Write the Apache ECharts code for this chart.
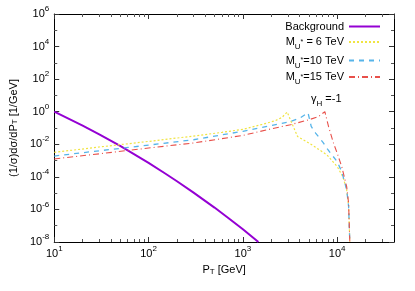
<!DOCTYPE html>
<html><head><meta charset="utf-8">
<script src="https://cdn.jsdelivr.net/npm/echarts@6/dist/echarts.min.js"></script>
<style>html,body{margin:0;padding:0;background:#fff}#c{width:415px;height:291px}</style>
</head><body><div id="c"></div>
<script>
// ---- data (P_T in GeV, (1/sigma) dsigma/dP_T in 1/GeV) ----
const seriesNames = ['Background', 'M_U* = 6 TeV', 'M_U*=10 TeV', 'M_U*=15 TeV'];

const bgPt  = [10, 20, 30, 50, 70, 100, 150, 200, 300, 500, 700, 1000, 1460];
const bgVal = [1, 0.139, 0.041, 7.9e-3, 2.5e-3, 7.2e-4, 1.6e-4, 5.4e-5, 1.07e-5, 1.3e-6, 3.0e-7, 6.0e-8, 1e-8];

const m6Pt  = [10, 30, 100, 300, 600, 1000, 1600, 2200, 2600, 2950, 3300, 3800, 4300, 5600, 7800, 10000, 11500, 12600, 13200, 13600];
const m6Val = [3.2e-3, 6.8e-3, 1.5e-2, 3.2e-2, 5.4e-2, 8.3e-2, 0.166, 0.28, 0.45, 0.95, 0.2, 0.03, 0.02, 8e-3, 2.2e-3, 4.3e-4, 1e-4, 1.6e-5, 1.6e-6, 1e-8];

const m10Pt  = [10, 30, 100, 300, 1000, 2000, 3200, 4000, 4900, 5300, 5900, 7100, 7900, 10000, 11200, 12600, 13200, 13600];
const m10Val = [1.9e-3, 4e-3, 8.9e-3, 1.9e-2, 6.3e-2, 0.14, 0.25, 0.4, 0.87, 0.126, 0.049, 0.0126, 5e-3, 8.5e-4, 2e-4, 1.6e-5, 1.6e-6, 1e-8];

const m15Pt  = [10, 30, 100, 300, 1000, 2000, 3200, 5000, 6300, 7400, 8100, 9100, 10000, 11200, 12600, 13200, 13600];
const m15Val = [1.26e-3, 2.6e-3, 5.9e-3, 1.2e-2, 3.5e-2, 8.9e-2, 0.16, 0.32, 0.5, 1.0, 0.12, 0.0126, 2.8e-3, 4e-4, 2.5e-5, 2.5e-6, 1e-8];

const xMinorTicks = [20,30,40,50,60,70,80,90,200,300,400,500,600,700,800,900,2000,3000,4000,5000,6000,7000,8000,9000,20000,30000];
const yMinorTicks = [1e5, 1e3, 1e1, 1e-1, 1e-3, 1e-5, 1e-7];

// ---- chart ----
const FONT = '"Liberation Sans", Arial, Helvetica, sans-serif';
const pairs = (xs, ys) => xs.map((x, i) => [x, ys[i]]);
const expFmt = v => {
  const l = Math.log10(v), e = Math.round(l);
  if (Math.abs(l - e) > 1e-6) return '';
  return '{b|10}{s|' + e + '}';
};
const labRich = {
  b: {fontSize: 11, lineHeight: 18, fontFamily: FONT, color: '#000'},
  s: {fontSize: 8, verticalAlign: 'top', fontFamily: FONT, color: '#000'}
};
const txtRich = {
  t: {fontSize: 11, lineHeight: 18, fontFamily: FONT, color: '#000'},
  sub: {fontSize: 8, verticalAlign: 'bottom', fontFamily: FONT, color: '#000'},
  st: {fontSize: 7, verticalAlign: 'middle', fontFamily: FONT, color: '#000'}
};
const xBase = {type: 'log', logBase: 10, min: 10, max: 40000, gridIndex: 0, splitLine: {show: false}};
const yBase = {type: 'log', logBase: 10, min: 1e-8, max: 1e6, gridIndex: 0, splitLine: {show: false}};
const lineAx = {show: true, onZero: false, lineStyle: {color: '#000', width: 1}};
const noLine = {show: false, onZero: false};

const xAxes = [
  Object.assign({}, xBase, {position: 'bottom', interval: 1, axisLine: lineAx,
    axisTick: {show: true, inside: true, length: 5, lineStyle: {color: '#333'}},
    axisLabel: {formatter: expFmt, rich: labRich, margin: 3, showMaxLabel: false},
    name: 'P{sub|T} [GeV]', nameLocation: 'middle', nameGap: 22,
    nameTextStyle: {fontSize: 11, fontFamily: FONT, color: '#000', rich: txtRich}}),
  Object.assign({}, xBase, {position: 'bottom', axisLine: noLine,
    axisTick: {show: true, inside: true, length: 3, customValues: xMinorTicks, lineStyle: {color: '#555'}},
    axisLabel: {show: false}}),
  Object.assign({}, xBase, {position: 'top', interval: 1, axisLine: lineAx,
    axisTick: {show: true, inside: true, length: 5, lineStyle: {color: '#333'}},
    axisLabel: {show: false}}),
  Object.assign({}, xBase, {position: 'top', axisLine: noLine,
    axisTick: {show: true, inside: true, length: 3, customValues: xMinorTicks, lineStyle: {color: '#555'}},
    axisLabel: {show: false}})
];
const yAxes = [
  Object.assign({}, yBase, {position: 'left', interval: 2, axisLine: lineAx,
    axisTick: {show: true, inside: true, length: 5, lineStyle: {color: '#333'}},
    axisLabel: {formatter: expFmt, rich: labRich, margin: 5},
    name: '(1/σ)dσ/dP{sub|T} [1/GeV]', nameLocation: 'middle', nameGap: 30, nameRotate: 90,
    nameTextStyle: {fontSize: 11, fontFamily: FONT, color: '#000', rich: txtRich}}),
  Object.assign({}, yBase, {position: 'left', axisLine: noLine,
    axisTick: {show: true, inside: true, length: 3, customValues: yMinorTicks, lineStyle: {color: '#555'}},
    axisLabel: {show: false}}),
  Object.assign({}, yBase, {position: 'right', interval: 2, axisLine: lineAx,
    axisTick: {show: true, inside: true, length: 5, lineStyle: {color: '#333'}},
    axisLabel: {show: false}}),
  Object.assign({}, yBase, {position: 'right', axisLine: noLine,
    axisTick: {show: true, inside: true, length: 3, customValues: yMinorTicks, lineStyle: {color: '#555'}},
    axisLabel: {show: false}})
];

const styles = [
  {color: '#9400d3', width: 2, type: 'solid'},
  {color: '#f0e442', width: 1.2, type: [2, 2]},
  {color: '#56b4e9', width: 1.3, type: [5, 5]},
  {color: '#e8504a', width: 1.1, type: [6, 3, 1, 3]}
];
const datas = [pairs(bgPt, bgVal), pairs(m6Pt, m6Val), pairs(m10Pt, m10Val), pairs(m15Pt, m15Val)];
const series = seriesNames.map((n, i) => ({
  name: n, type: 'line', xAxisIndex: 0, yAxisIndex: 0, data: datas[i],
  symbol: 'none', showSymbol: false, clip: true, animation: false,
  lineStyle: Object.assign({cap: 'butt'}, styles[i]), itemStyle: {color: styles[i].color},
  emphasis: {disabled: true}
}));

const legendFmt = name => name === 'Background' ? '{t|Background}'
  : '{t|M}{sub|U}{st|*}{t|' + name.slice(4) + '}';
const legTops = [21, 36.5, 55, 71.5];
const legends = seriesNames.map((n, i) => ({
  data: [n], orient: 'vertical', right: 34, top: legTops[i], align: 'right',
  itemWidth: 31, itemHeight: 10, padding: 0, selectedMode: false,
  itemStyle: {opacity: 0, color: 'transparent', borderColor: 'transparent'},
  formatter: legendFmt, textStyle: {fontSize: 11, fontFamily: FONT, color: '#000', rich: txtRich}
}));

const chart = echarts.init(document.getElementById('c'), null, {renderer: 'canvas'});
chart.setOption({
  animation: false,
  backgroundColor: '#fff',
  grid: {left: 49, right: 21, top: 14, bottom: 49, containLabel: false},
  xAxis: xAxes,
  yAxis: yAxes,
  legend: legends,
  series: series,
  graphic: [{
    type: 'text', left: 311, top: 93, silent: true,
    style: {text: '{t|γ}{sub|H}{t| =-1}', rich: txtRich, font: '11px ' + FONT, fill: '#000'}
  }]
});
</script></body></html>
